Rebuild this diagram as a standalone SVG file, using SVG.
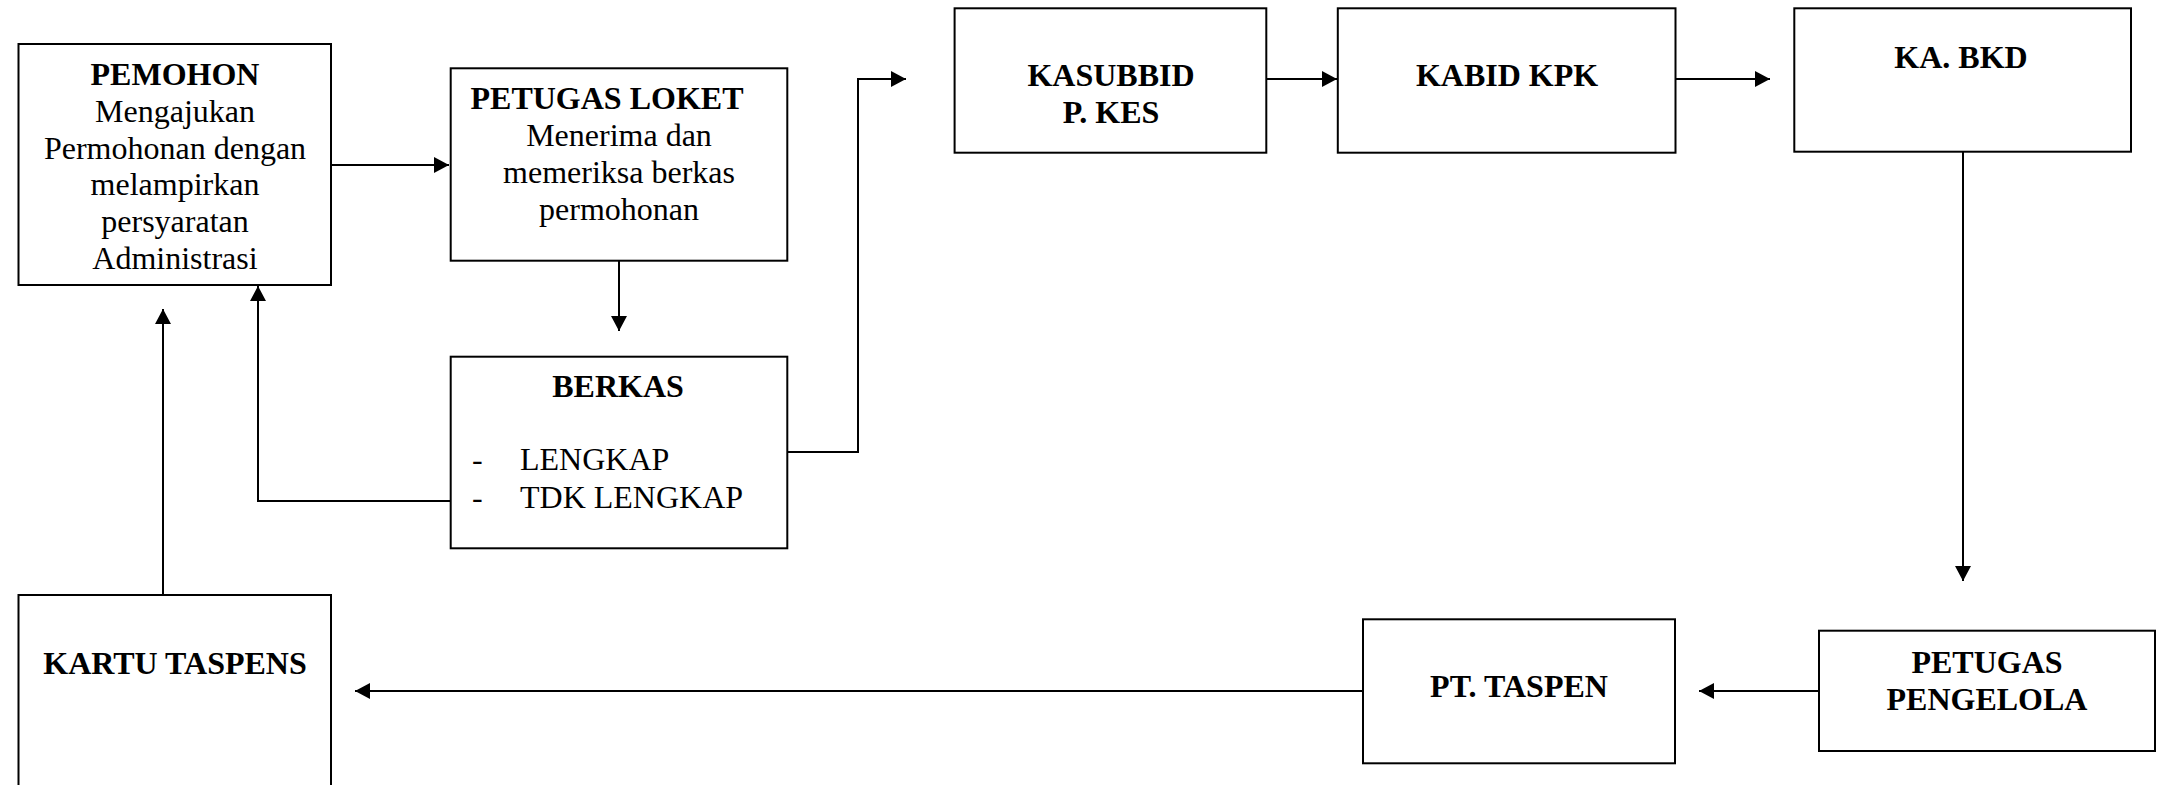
<svg xmlns="http://www.w3.org/2000/svg" width="2161" height="785" viewBox="0 0 2161 785">
<style>
.box{fill:#fff;stroke:#000;stroke-width:2}
text{font-family:'Liberation Serif','Times New Roman','DejaVu Serif',serif;font-size:32px;fill:#000}
.b{font-weight:bold}
.c{text-anchor:middle}
.ln{fill:none;stroke:#000;stroke-width:2}
</style>
<defs>
<marker id="ah" viewBox="0 0 15 16" refX="15" refY="8" markerWidth="15" markerHeight="16" markerUnits="userSpaceOnUse" orient="auto">
<path d="M0,0 L15,8 L0,16 Z" fill="#000"/>
</marker>
</defs>
<rect width="2161" height="785" fill="#fff"/>
<g id="connectors">
<path class="ln" d="M331,165 H449" marker-end="url(#ah)"/>
<path class="ln" d="M619,261 V331" marker-end="url(#ah)"/>
<path class="ln" d="M451,501 H258 V286" marker-end="url(#ah)"/>
<path class="ln" d="M787,452 H858 V79 H906" marker-end="url(#ah)"/>
<path class="ln" d="M1266,79 H1337" marker-end="url(#ah)"/>
<path class="ln" d="M1675,79 H1770" marker-end="url(#ah)"/>
<path class="ln" d="M1963,152 V581" marker-end="url(#ah)"/>
<path class="ln" d="M1819,691 H1699" marker-end="url(#ah)"/>
<path class="ln" d="M1363,691 H355" marker-end="url(#ah)"/>
<path class="ln" d="M163,595 V309" marker-end="url(#ah)"/>
</g>
<g id="pemohon">
<rect class="box" x="18.5" y="44" width="312.5" height="241"/>
<text class="c" x="175" y="85"><tspan class="b">PEMOHON</tspan><tspan x="175" y="122">Mengajukan</tspan><tspan x="175" y="158.6">Permohonan dengan</tspan><tspan x="175" y="195.4">melampirkan</tspan><tspan x="175" y="232.2">persyaratan</tspan><tspan x="175" y="269">Administrasi</tspan></text>
</g>
<g id="petugas-loket">
<rect class="box" x="450.7" y="68.3" width="336.6" height="192.4"/>
<text class="b c" x="607" y="109">PETUGAS LOKET</text>
<text class="c" x="619" y="146">Menerima dan<tspan x="619" y="183">memeriksa berkas</tspan><tspan x="619" y="220">permohonan</tspan></text>
</g>
<g id="berkas">
<rect class="box" x="450.7" y="356.7" width="336.6" height="191.6"/>
<text class="b c" x="618" y="397">BERKAS</text>
<text x="472" y="470">-</text>
<text x="520" y="470">LENGKAP</text>
<text x="472" y="508">-</text>
<text x="520" y="508">TDK LENGKAP</text>
</g>
<g id="kasubbid">
<rect class="box" x="954.6" y="8.3" width="311.7" height="144.4"/>
<text class="b c" x="1111" y="86">KASUBBID<tspan x="1111" y="123">P. KES</tspan></text>
</g>
<g id="kabid-kpk">
<rect class="box" x="1337.8" y="8.3" width="337.7" height="144.4"/>
<text class="b c" x="1507" y="86">KABID KPK</text>
</g>
<g id="ka-bkd">
<rect class="box" x="1794.3" y="8.3" width="336.7" height="143.4"/>
<text class="b c" x="1961" y="68">KA. BKD</text>
</g>
<g id="petugas-pengelola">
<rect class="box" x="1819" y="630.7" width="336" height="120.3"/>
<text class="b c" x="1987" y="673">PETUGAS<tspan x="1987" y="710">PENGELOLA</tspan></text>
</g>
<g id="pt-taspen">
<rect class="box" x="1363" y="619.3" width="312" height="144"/>
<text class="b c" x="1519" y="697">PT. TASPEN</text>
</g>
<g id="kartu-taspens">
<rect class="box" x="18.5" y="595" width="312.5" height="200"/>
<text class="b c" x="175" y="674">KARTU TASPENS</text>
</g>
</svg>
